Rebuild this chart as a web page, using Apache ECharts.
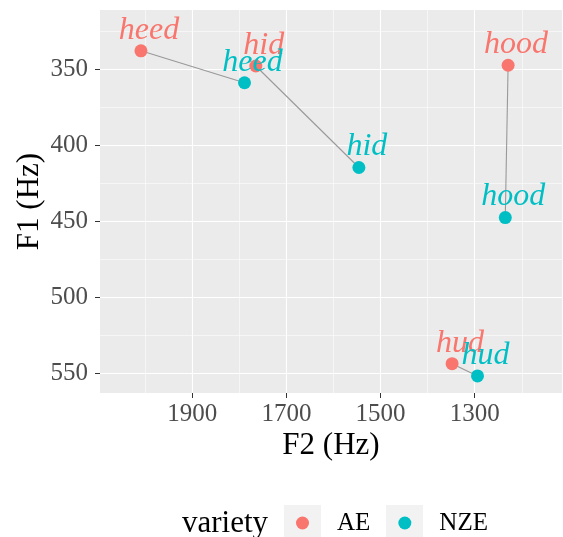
<!DOCTYPE html>
<html>
<head>
<meta charset="utf-8">
<script src="https://cdn.jsdelivr.net/npm/echarts@6/dist/echarts.min.js"></script>
<style>html,body{margin:0;padding:0;background:#fff}#c{width:563px;height:537px}</style>
</head>
<body>
<div id="c"></div>
<script>
// Data
const vowels = ['heed', 'hid', 'hood', 'hud'];
const aeF2 = [2009, 1765, 1229, 1348];
const aeF1 = [338, 348, 347.5, 543.6];
const nzeF2 = [1789, 1546, 1235, 1294];
const nzeF1 = [359, 414.7, 447.6, 551.7];
const varieties = ['AE', 'NZE'];
const xMajor = [1900, 1700, 1500, 1300];
const xMinor = [2000, 1800, 1600, 1400, 1200];
const yMajor = [350, 400, 450, 500, 550];
const yMinor = [325, 375, 425, 475, 525];

const FONT = 'Liberation Serif';
const colAE = '#F8766D', colNZE = '#00BFC4';

const chart = echarts.init(document.getElementById('c'), null, {renderer: 'canvas'});

const lineSeries = vowels.map((v, i) => ({
  type: 'line', name: 'seg-' + v, xAxisIndex: 0, yAxisIndex: 0,
  data: [[aeF2[i], aeF1[i]], [nzeF2[i], nzeF1[i]]],
  symbol: 'none', silent: true, z: 1,
  lineStyle: {color: '#999999', width: 1.1},
  legendHoverLink: false
}));

function pointSeries(name, f2, f1, col) {
  return {
    type: 'scatter', name: name, xAxisIndex: 0, yAxisIndex: 0, z: 3,
    symbolSize: 13,
    itemStyle: {color: col, opacity: 1},
    data: vowels.map((v, i) => ({value: [f2[i], f1[i]], name: v})),
    label: {
      show: true, position: [14.5, 2], align: 'center', verticalAlign: 'bottom',
      formatter: p => p.name,
      color: col, fontFamily: FONT, fontStyle: 'italic', fontSize: 32
    }
  };
}

const common = {
  axisLine: {show: false},
  nameMoveOverlap: false,
  nameTextStyle: {fontFamily: FONT, fontSize: 31, color: '#000'}
};
const fmt = v => String(v);

const option = {
  backgroundColor: '#ffffff',
  animation: false,
  grid: {left: 100, right: 1, top: 10, bottom: 144, show: true, backgroundColor: '#EBEBEB', borderWidth: 0, containLabel: false},
  xAxis: [
    Object.assign({}, common, {
      type: 'value', inverse: true, min: 1114.5, max: 2096, position: 'bottom',
      name: 'F2 (Hz)', nameLocation: 'middle', nameGap: 37,
      axisTick: {show: true, length: 5, lineStyle: {color: '#333333', width: 1}, customValues: xMajor},
      axisLabel: {customValues: xMajor, formatter: fmt, fontFamily: FONT, fontSize: 25, color: '#4D4D4D', margin: 9},
      splitLine: {show: true, lineStyle: {color: '#ffffff', width: 1.1}}
    }),
    {
      type: 'value', inverse: true, min: 1114.5, max: 2096, position: 'top',
      axisLine: {show: false}, axisLabel: {show: false, customValues: xMinor},
      axisTick: {show: false, customValues: xMinor},
      splitLine: {show: true, lineStyle: {color: '#ffffff', width: 0.55}}
    }
  ],
  yAxis: [
    Object.assign({}, common, {
      type: 'value', inverse: true, min: 311.2, max: 562.9, position: 'left',
      name: 'F1 (Hz)', nameLocation: 'middle', nameGap: 55,
      axisTick: {show: true, length: 5, lineStyle: {color: '#333333', width: 1}, customValues: yMajor},
      axisLabel: {customValues: yMajor, formatter: fmt, fontFamily: FONT, fontSize: 25, color: '#4D4D4D', margin: 12},
      splitLine: {show: true, lineStyle: {color: '#ffffff', width: 1.1}}
    }),
    {
      type: 'value', inverse: true, min: 311.2, max: 562.9, position: 'right',
      axisLine: {show: false}, axisLabel: {show: false, customValues: yMinor},
      axisTick: {show: false, customValues: yMinor},
      splitLine: {show: true, lineStyle: {color: '#ffffff', width: 0.55}}
    }
  ],
  legend: {
    data: varieties, icon: 'circle', itemWidth: 13, itemHeight: 13, padding: 0,
    left: 296, top: 510.5, itemGap: 28, orient: 'horizontal', selectedMode: false,
    textStyle: {fontFamily: FONT, fontSize: 25, color: '#000', padding: [0, 0, 0, 23]}
  },
  graphic: [
    {type: 'rect', z: 0, shape: {x: 284, y: 505, width: 37, height: 36}, style: {fill: '#F2F2F2'}},
    {type: 'rect', z: 0, shape: {x: 386, y: 505, width: 37, height: 36}, style: {fill: '#F2F2F2'}},
    {type: 'text', z: 0, x: 182, y: 524, style: {text: 'variety', font: '31px "Liberation Serif"', fill: '#000', textVerticalAlign: 'middle'}}
  ],
  series: lineSeries.concat([
    pointSeries(varieties[0], aeF2, aeF1, colAE),
    pointSeries(varieties[1], nzeF2, nzeF1, colNZE)
  ])
};
chart.setOption(option);
</script>
</body>
</html>
